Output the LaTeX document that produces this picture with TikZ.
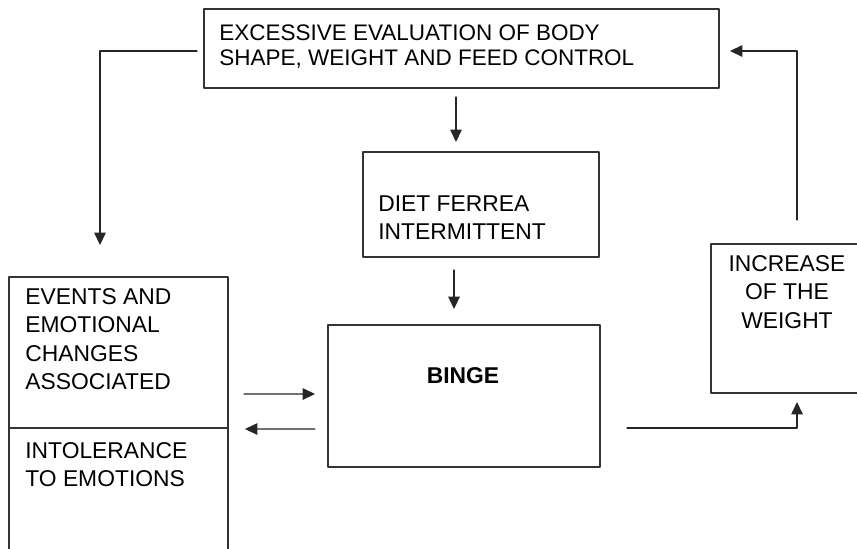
\documentclass[tikz,border=0pt]{standalone}
\usepackage{fontspec}
\setmainfont{Liberation Sans}
\usetikzlibrary{arrows.meta,calc}

\begin{document}
\begin{tikzpicture}[x=0.02cm, y=-0.02cm, line cap=round, line join=round,
	box/.style={draw=black!80, line width=0.8pt, inner sep=0pt, outer sep=0pt},
	txt/.style={inner sep=0pt, align=left, font=\fontsize{13pt}{16.2pt}\selectfont},
	arr/.style={draw=black!85, line width=0.7pt, -{Triangle[length=7pt,width=6.5pt]}}]
	%Frame
	\useasboundingbox (0,0) rectangle (857,548);
	\clip (0,0) rectangle (857,548);

	%Boxes
	\node[box, minimum width=10.30cm, minimum height=1.58cm] (top) at (461.5,48.5) {};
	\node[box, minimum width=4.72cm, minimum height=2.10cm] (diet) at (481,204.5) {};
	\node[box, minimum width=5.44cm, minimum height=2.84cm] (binge) at (464,396) {};
	\node[box, minimum width=4.38cm, minimum height=3.02cm] (events) at (118.5,352.5) {};
	\node[box, minimum width=4.38cm, minimum height=3.04cm] (intol) at (118.5,504) {};
	\node[box, minimum width=3.44cm, minimum height=2.98cm] (weight) at (797,318.5) {};

	%Texts
	\node[txt, anchor=north west, font=\fontsize{12.8pt}{14.2pt}\selectfont] (topTxt) at ($(top.north west)+(15,15)$) {EXCESSIVE EVALUATION OF BODY\\SHAPE, WEIGHT AND FEED CONTROL};
	\node[txt, anchor=north west] (dietTxt) at ($(diet.north west)+(15,43)$) {DIET FERREA\\INTERMITTENT};
	\node[txt, anchor=north, font=\fontsize{13pt}{16.2pt}\selectfont\bfseries] (bingeTxt) at ($(binge.north)+(-1,42)$) {BINGE};
	\node[txt, anchor=north west] (eventsTxt) at ($(events.north west)+(16,11)$) {EVENTS AND\\EMOTIONAL\\CHANGES\\ASSOCIATED};
	\node[txt, anchor=north west] (intolTxt) at ($(intol.north west)+(16,14)$) {INTOLERANCE\\TO EMOTIONS};
	\node[txt, anchor=north, align=center] (weightTxt) at ($(weight.north)+(-10,11)$) {INCREASE\\OF THE\\WEIGHT};

	%Arrows
	\draw[arr] ($(top.west)+(-7,2.5)$) -| ($(events.north)+(-18.5,-32)$);
	\draw[arr] ($(top.south)+(-5.5,9)$) -- ($(diet.north)+(-25,-10)$);
	\draw[arr] ($(diet.south)+(-27,13)$) -- ($(binge.north)+(-10,-16)$);
	\draw[arr] ($(events.south east)+(16,-34)$) -- ($(binge.west)+(-13,-2)$);
	\draw[arr] ($(binge.west)+(-13,33)$) -- ($(intol.north east)+(17,1)$);
	\draw[arr] ($(binge.east)+(27,32)$) -| ($(weight.south)+(0,9)$);
	\draw[arr] ($(weight.north)+(0,-24)$) |- ($(top.east)+(11,2.5)$);
\end{tikzpicture}
\end{document}
